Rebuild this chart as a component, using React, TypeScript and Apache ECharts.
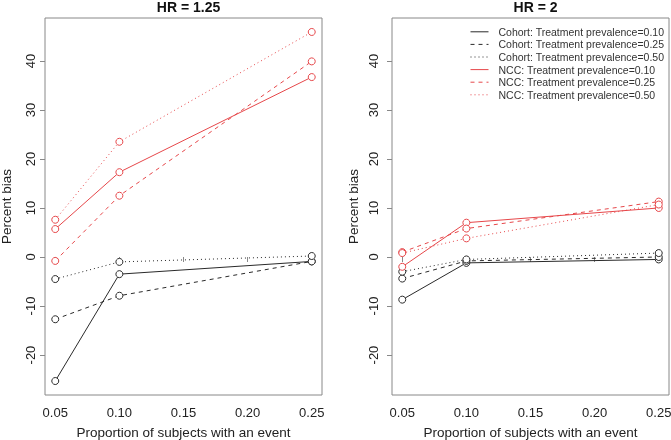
import React, { useEffect, useRef } from "react";
import * as echarts from "echarts";

const proportions = [0.05, 0.1, 0.25];
const xTicks = [0.05, 0.1, 0.15, 0.2, 0.25];
const yTicks = [-20, -10, 0, 10, 20, 30, 40];

const seriesNames = [
  "Cohort: Treatment prevalence=0.10",
  "Cohort: Treatment prevalence=0.25",
  "Cohort: Treatment prevalence=0.50",
  "NCC: Treatment prevalence=0.10",
  "NCC: Treatment prevalence=0.25",
  "NCC: Treatment prevalence=0.50",
];

// HR = 1.25
const hr125Cohort010 = [-25.3, -3.5, -0.9];
const hr125Cohort025 = [-12.7, -7.9, -0.9];
const hr125Cohort050 = [-4.5, -1.0, 0.2];
const hr125Ncc010 = [5.7, 17.3, 36.7];
const hr125Ncc025 = [-0.8, 12.5, 39.9];
const hr125Ncc050 = [7.6, 23.5, 45.9];

// HR = 2
const hr2Cohort010 = [-8.7, -1.2, -0.5];
const hr2Cohort025 = [-4.4, -0.8, 0.0];
const hr2Cohort050 = [-3.0, -0.5, 0.8];
const hr2Ncc010 = [-2.0, 7.0, 10.0];
const hr2Ncc025 = [1.0, 5.8, 11.3];
const hr2Ncc050 = [0.8, 3.8, 10.7];

const panels = [
  { title: "HR = 1.25", values: [hr125Cohort010, hr125Cohort025, hr125Cohort050, hr125Ncc010, hr125Ncc025, hr125Ncc050] },
  { title: "HR = 2", values: [hr2Cohort010, hr2Cohort025, hr2Cohort050, hr2Ncc010, hr2Ncc025, hr2Ncc050] },
];

const BLACK = "#2a2a2a";
const RED = "#e6474a";
const lineColors = [BLACK, BLACK, BLACK, RED, RED, RED];
const lineTypes: any[] = ["solid", [4, 4], [1, 3], "solid", [4, 4], [1, 3]];

const FONT = "'Liberation Sans', Arial, Helvetica, sans-serif";

export default function App() {
  const ref = useRef<HTMLDivElement>(null);
  useEffect(() => {
    document.body.style.margin = "0";
    if (!ref.current) return;
    const chart = echarts.init(ref.current, null, { renderer: "svg" });
    const grids = [
      { left: 45, top: 18, width: 277, height: 377 },
      { left: 392, top: 18, width: 277, height: 377 },
    ];
    const xAxes = grids.map((_, i) => ({
      type: "value",
      gridIndex: i,
      min: 0.042,
      max: 0.258,
      name: "Proportion of subjects with an event",
      nameLocation: "middle",
      nameGap: 30,
      nameTextStyle: { fontSize: 13.5, color: "#222", fontFamily: FONT },
      axisLine: { show: false },
      splitLine: { show: false },
      axisTick: { show: true, length: 5, customValues: xTicks, lineStyle: { color: "#888" } },
      axisLabel: {
        customValues: xTicks,
        fontSize: 13,
        color: "#222",
        fontFamily: FONT,
        margin: 11,
        formatter: (v: number) => v.toFixed(2),
      },
    }));
    const yAxes = grids.map((_, i) => ({
      type: "value",
      gridIndex: i,
      min: -28.15,
      max: 48.75,
      name: "Percent bias",
      nameLocation: "middle",
      nameGap: 32,
      nameTextStyle: { fontSize: 13.5, color: "#222", fontFamily: FONT },
      axisLine: { show: false },
      splitLine: { show: false },
      axisTick: { show: true, length: 5, customValues: yTicks, lineStyle: { color: "#888" } },
      axisLabel: {
        customValues: yTicks,
        rotate: 90,
        fontSize: 13,
        color: "#222",
        fontFamily: FONT,
        margin: i === 0 ? 8 : 12,
      },
    }));
    const series: any[] = [];
    panels.forEach((p, gi) => {
      p.values.forEach((vals, si) => {
        series.push({
          type: "line",
          name: seriesNames[si],
          xAxisIndex: gi,
          yAxisIndex: gi,
          data: proportions.map((x, k) => [x, vals[k]]),
          symbol: "circle",
          symbolSize: 7,
          itemStyle: { color: "#fff", borderColor: lineColors[si], borderWidth: 1 },
          lineStyle: { color: lineColors[si], width: 1, type: lineTypes[si] },
          emphasis: { disabled: true },
        });
      });
    });
    chart.setOption({
      animation: false,
      textStyle: { fontFamily: FONT },
      title: panels.map((p, i) => ({
        text: p.title,
        left: grids[i].left + grids[i].width / 2,
        textAlign: "center",
        top: -5,
        textStyle: { fontSize: 14, fontWeight: "bold", color: "#111", fontFamily: FONT },
      })),
      grid: grids.map((g) => ({
        ...g,
        outerBoundsMode: "none",
        containLabel: false,
        show: true,
        borderColor: "#888",
        borderWidth: 1,
        backgroundColor: "transparent",
      })),
      xAxis: xAxes,
      yAxis: yAxes,
      legend: {
        data: seriesNames,
        orient: "vertical",
        left: 470,
        top: 26.3,
        padding: 0,
        itemWidth: 18,
        itemHeight: 10,
        itemGap: 1.6,
        selectedMode: false,
        itemStyle: { opacity: 0 },
        lineStyle: { width: 1 },
        textStyle: { fontSize: 10.5, color: "#333", fontFamily: FONT, lineHeight: 10, padding: [0, 0, 0, 5] },
      },
      series,
    });
    return () => chart.dispose();
  }, []);
  return <div ref={ref} style={{ position: "fixed", left: 0, top: 0, width: 671, height: 440 }} />;
}
